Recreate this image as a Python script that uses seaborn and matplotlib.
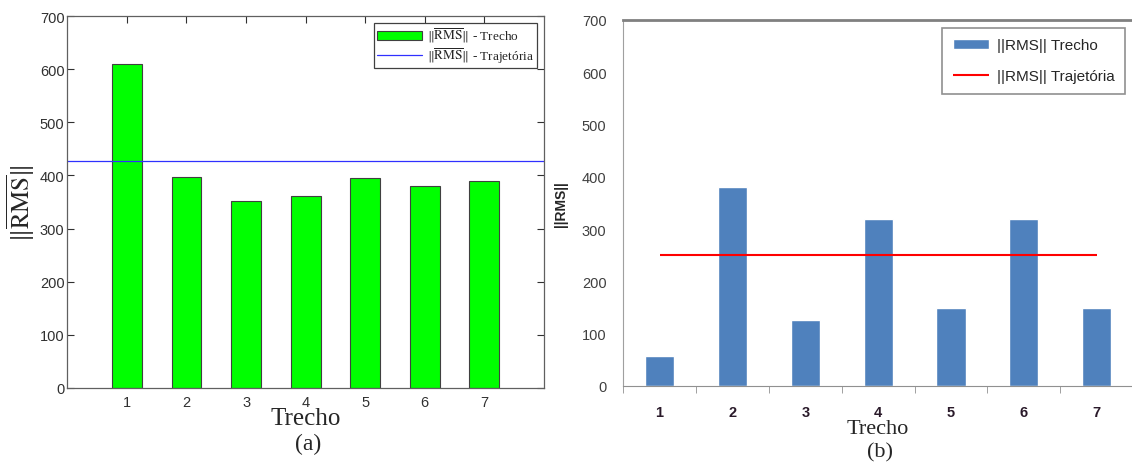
import numpy as np
import pandas as pd
import matplotlib
matplotlib.use("Agg")
import matplotlib.pyplot as plt
from matplotlib.ticker import FixedLocator
import seaborn as sns

# data
trechos = [1, 2, 3, 4, 5, 6, 7]
rms_a = [610, 397, 352, 362, 395, 381, 390]
traj_a = 427
rms_b = [57, 380, 126, 320, 149, 320, 149]
traj_b = 250

sns.set_style("ticks")
plt.rcParams["font.family"] = ["Liberation Sans", "DejaVu Sans"]
plt.rcParams["font.serif"] = ["Liberation Serif", "DejaVu Serif"]
plt.rcParams["mathtext.fontset"] = "stix"

fig = plt.figure(figsize=(11.32, 4.64), dpi=100)

# ---- panel (a): MATLAB style
ax1 = fig.add_axes([0.0595, 0.162, 0.421, 0.801])
df_a = pd.DataFrame({"Trecho": trechos, "RMS": rms_a})
sns.barplot(data=df_a, x="Trecho", y="RMS", native_scale=True, width=0.5,
            color="#00ff00", edgecolor="#404040", linewidth=0.8, saturation=1,
            label=r"$\|\overline{\mathrm{RMS}}\|$ - Trecho", ax=ax1)
ax1.axhline(traj_a, color="#3030ff", linewidth=0.9,
            label=r"$\|\overline{\mathrm{RMS}}\|$ - Trajetória")
ax1.set_xlim(0, 8)
ax1.set_ylim(0, 700)
ax1.set_xticks(trechos)
ax1.set_yticks(range(0, 701, 100))
ax1.tick_params(direction="in", length=5, top=True, right=True,
                labelsize=10.5, colors="#303030")
ax1.tick_params(axis="y", pad=2)
ax1.tick_params(axis="x", pad=5)
for s in ax1.spines.values():
    s.set_color("#606060")
    s.set_linewidth(0.9)
ax1.set_xlabel("Trecho", family="serif", fontsize=18, labelpad=-1)
ax1.set_ylabel(r"$\|\overline{\mathrm{RMS}}\|$", fontsize=18)
ax1.yaxis.set_label_coords(-0.063, 0.5)
h1, l1 = ax1.get_legend_handles_labels()
leg1 = ax1.legend(h1[::-1], l1[::-1], loc="upper right",
                  prop={"family": "serif", "size": 9.5},
                  handlelength=3.4, fancybox=False, edgecolor="#404040",
                  borderaxespad=0.5, labelspacing=0.1, borderpad=0.25,
                  handletextpad=0.4, framealpha=1)
leg1.get_frame().set_linewidth(0.9)
fig.text(0.272, 0.03, "(a)", family="serif", fontsize=17, ha="center")

# ---- panel (b): Excel style
ax2 = fig.add_axes([0.5505, 0.166, 0.4505, 0.789])
df_b = pd.DataFrame({"Trecho": [str(t) for t in trechos], "RMS": rms_b})
sns.barplot(data=df_b, x="Trecho", y="RMS", width=0.4, color="#4f81bd",
            saturation=1, label="||RMS|| Trecho", ax=ax2)
ax2.hlines(traj_b, 0, len(trechos) - 1, color="#ff0000", linewidth=1.5,
           label="||RMS|| Trajetória")
ax2.set_xlim(-0.5, len(trechos) - 0.5)
ax2.set_ylim(0, 700)
ax2.set_yticks(range(0, 701, 100))
ax2.xaxis.set_minor_locator(FixedLocator(np.arange(-0.5, len(trechos), 1.0)))
ax2.tick_params(axis="x", which="major", length=0, pad=14, labelsize=10.5,
                labelcolor="#2a1a2a")
ax2.tick_params(axis="x", which="minor", length=5, direction="out",
                color="#909090")
ax2.tick_params(axis="y", length=0, pad=12, labelsize=10.5,
                labelcolor="#404040")
for t in ax2.get_xticklabels():
    t.set_fontweight("bold")
ax2.spines["right"].set_visible(False)
ax2.spines["left"].set_color("#a0a0a0")
ax2.spines["bottom"].set_color("#909090")
ax2.spines["top"].set_color("#808080")
ax2.spines["top"].set_linewidth(2)
ax2.set_xlabel("Trecho", family="serif", fontsize=16, labelpad=0)
ax2.set_ylabel("||RMS||", fontsize=10, fontweight="bold", labelpad=10)
h2, l2 = ax2.get_legend_handles_labels()
leg2 = ax2.legend(h2[::-1], l2[::-1], loc="upper right", fontsize=11,
                  handlelength=2.4, fancybox=False, edgecolor="#909090",
                  framealpha=1, labelspacing=1.1, borderpad=0.7,
                  borderaxespad=0.5, handletextpad=0.5)
leg2.get_frame().set_linewidth(1.2)
fig.text(0.777, 0.025, "(b)", family="serif", fontsize=16, ha="center",
         va="center")

fig.savefig("out.png", dpi=100)
